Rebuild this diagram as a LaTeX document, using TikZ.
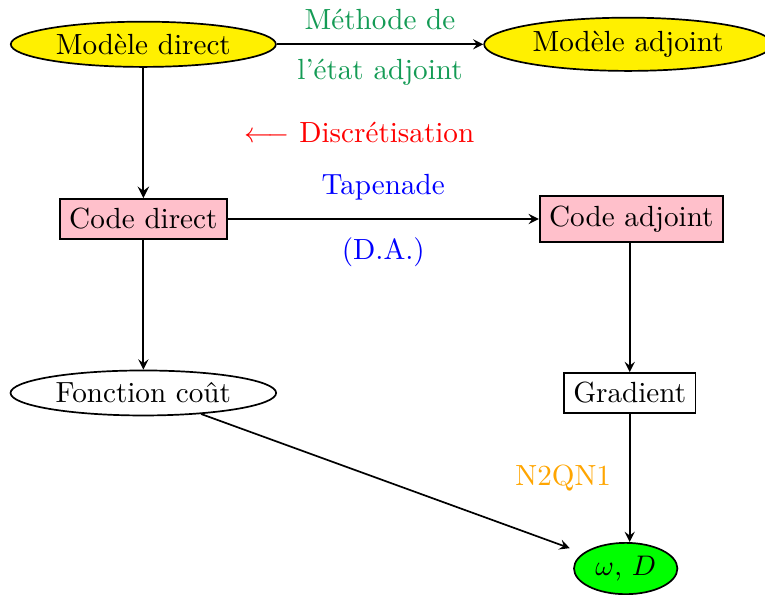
\documentclass[tikz,border=0pt]{standalone}
\usepackage{fontspec}
\usetikzlibrary{shapes.geometric}
\definecolor{methgreen}{RGB}{20,155,85}
\definecolor{codepink}{RGB}{255,192,203}
\definecolor{optgreen}{RGB}{0,255,0}
\definecolor{yellowfill}{RGB}{255,240,0}
\definecolor{nqorange}{RGB}{255,165,0}
\tikzset{
    modele/.style={ellipse,draw,semithick,fill=yellowfill,inner xsep=2.2pt,inner ysep=2pt},
    codebox/.style={rectangle,draw,semithick,fill=codepink},
    plainbox/.style={rectangle,draw,semithick},
    plainell/.style={ellipse,draw,semithick,inner xsep=2.2pt,inner ysep=2pt},
    fleche/.style={->,semithick}
}
\begin{document}
\begin{tikzpicture}[>=stealth,font=\fontsize{10.3pt}{12pt}\selectfont]
        \useasboundingbox (0, 0) rectangle (9.5, 7.38);
        \node[modele] (md) at (1.78, 6.83) {Modèle direct};
        \node[modele] (ma) at (7.8, 6.83) {Modèle adjoint};
        \node[codebox] (cd) at (1.78, 4.66) {Code direct};
        \node[codebox] (ca) at (7.84, 4.66) {Code adjoint};
        \node[plainell] (fc) at (1.78, 2.50) {Fonction coût};
        \node[plainbox] (gr) at (7.82, 2.50) {Gradient};
        \node[plainell,fill=optgreen] (om) at (7.77, 0.32) {$\omega$, $D$};
        \node[red] (disc) at (4.46, 5.74) {$\longleftarrow$ Discrétisation};
        \draw[fleche] (md) -- (ma)
            node[midway,above=1.5pt,methgreen] {Méthode de}
            node[midway,below=1.5pt,methgreen] {l’état adjoint};
        \draw[->,thick] (md) -- (cd);
        \draw[fleche] (cd) -- (ca)
            node[midway,above=3pt,blue] {Tapenade}
            node[midway,below=3pt,blue] {(D.A.)};
        \draw[fleche] (cd) -- (fc);
        \draw[fleche] (ca.south -| gr) -- (gr);
        \draw[fleche] (gr) -- (gr |- om.north)
            node[midway,left=3pt,nqorange] {N2QN1};
        \draw[fleche,shorten >=5pt] (fc) -- (om);
    \end{tikzpicture}
\end{document}
